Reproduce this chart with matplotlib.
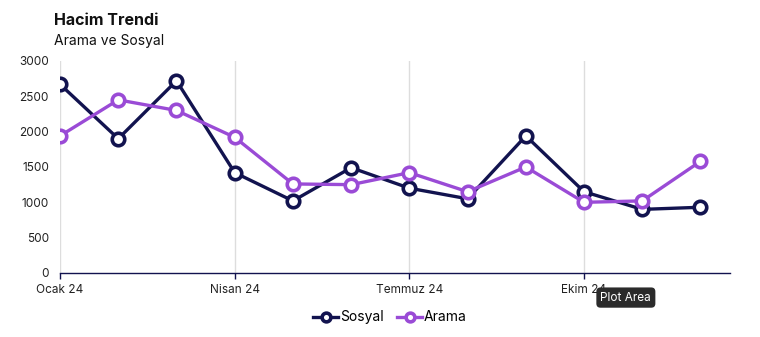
import matplotlib
matplotlib.use('Agg')
import matplotlib.pyplot as plt
from matplotlib.lines import Line2D

# data
months = ['Ocak 24', 'Şubat 24', 'Mart 24', 'Nisan 24', 'Mayıs 24', 'Haziran 24',
          'Temmuz 24', 'Ağustos 24', 'Eylül 24', 'Ekim 24', 'Kasım 24', 'Aralık 24']
sosyal = [2670, 1900, 2720, 1420, 1020, 1490, 1200, 1050, 1940, 1150, 900, 930]
arama = [1940, 2450, 2300, 1920, 1260, 1250, 1420, 1150, 1500, 1000, 1020, 1580]
tick_idx = [0, 3, 6, 9]
yticks = [0, 500, 1000, 1500, 2000, 2500, 3000]

navy = '#12134f'
purple = '#9a4bd6'

plt.rcParams['font.family'] = ['Inter', 'DejaVu Sans']

fig = plt.figure(figsize=(7.6, 3.37), dpi=100)
ax = fig.add_axes([0.079, 0.19, 0.881, 0.629])

x = list(range(len(months)))
style = dict(linewidth=2.4, marker='o', markersize=9, markerfacecolor='white',
             markeredgewidth=2.6, zorder=3)
ax.plot(x, sosyal, color=navy, **style)
ax.plot(x, arama, color=purple, **style)

ax.set_xlim(0, 11.5)
ax.set_ylim(0, 3000)
ax.set_yticks(yticks)
ax.set_yticklabels([str(v) for v in yticks], fontsize=8.5, color='#222222')
ax.set_xticks(tick_idx)
ax.set_xticklabels([months[i] for i in tick_idx], fontsize=8.5, color='#222222')
ax.tick_params(axis='y', length=0, pad=8)
ax.tick_params(axis='x', length=4, color=navy, width=1, pad=4)
ax.grid(axis='x', color='#dddddd', linewidth=1)
ax.set_axisbelow(True)
for s in ['left', 'right', 'top']:
    ax.spines[s].set_visible(False)
ax.spines['bottom'].set_color(navy)
ax.spines['bottom'].set_linewidth(1)

fig.text(0.071, 0.925, 'Hacim Trendi', fontsize=11.5, fontweight='bold', color='#111111')
fig.text(0.071, 0.865, 'Arama ve Sosyal', fontsize=10, color='#111111')

handles = [Line2D([], [], color=navy, **style), Line2D([], [], color=purple, **style)]
fig.legend(handles, ['Sosyal', 'Arama'], loc='center', bbox_to_anchor=(0.513, 0.058),
           ncol=2, frameon=False, fontsize=10, handlelength=1.8, handletextpad=0.1,
           columnspacing=1.0, markerscale=0.7)

# tooltip present in the screenshot
fig.text(0.8235, 0.117, 'Plot Area', fontsize=8.5, color='white', ha='center', va='center',
         bbox=dict(boxstyle='round,pad=0.35', fc='#2b2b2b', ec='none'))

fig.savefig('out.png', dpi=100)
